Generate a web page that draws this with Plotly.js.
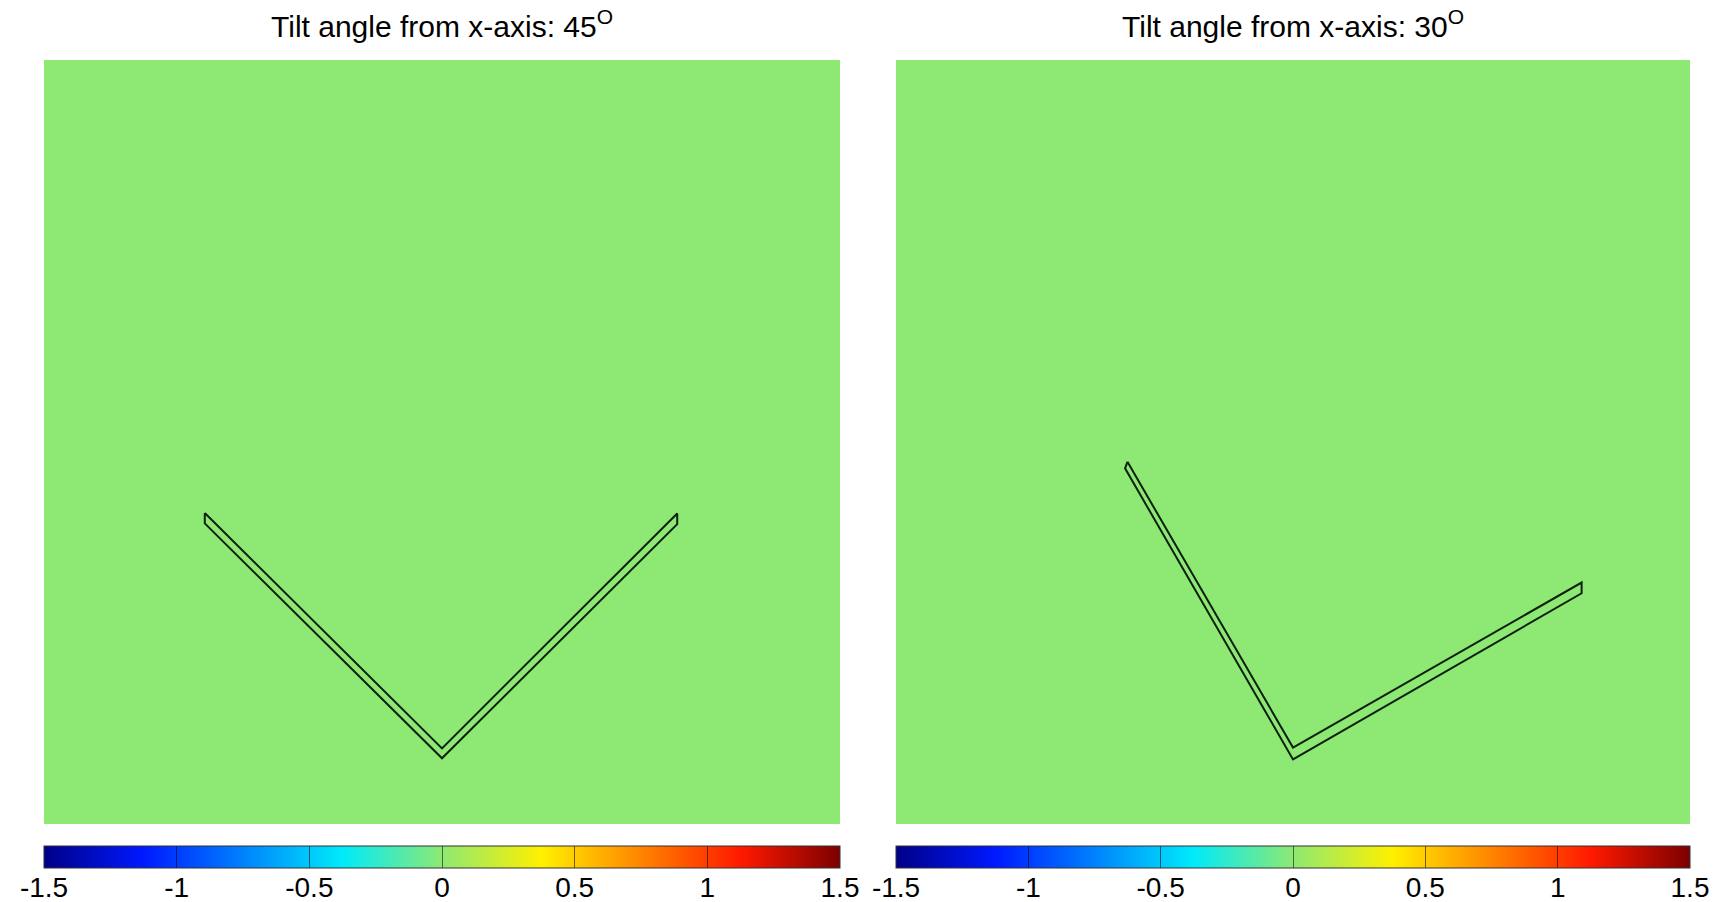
<!DOCTYPE html>
<html>
<head>
<meta charset="utf-8">
<script src="https://cdn.plot.ly/plotly-3.0.1.min.js"></script>
<style>
  html, body { margin: 0; padding: 0; background: #ffffff; overflow: hidden; }
  #chart { width: 1721px; height: 902px; }
</style>
</head>
<body>
<div id="chart"></div>
<script>
// ---- data ----
const panelTitles = ['Tilt angle from x-axis: 45<sup>O</sup>', 'Tilt angle from x-axis: 30<sup>O</sup>'];

// field (all zero) on a coarse grid, per panel
const fieldX = [-0.5, 0.5];
const fieldY = [-0.5, 0.5];
const fieldZ45 = [[0, 0], [0, 0]];
const fieldZ30 = [[0, 0], [0, 0]];

// outline of the V-shaped strip, tilt 45 deg
const strip45X = [-0.596, 0.000, 0.591, 0.591, 0.000, -0.596, -0.596];
const strip45Y = [-0.186, -0.802, -0.187, -0.215, -0.828, -0.213, -0.186];

// outline of the V-shaped strip, tilt 30 deg
const strip30X = [-0.417, 0.000, 0.727, 0.727, 0.000, -0.423, -0.417];
const strip30Y = [-0.052, -0.800, -0.368, -0.396, -0.831, -0.069, -0.052];

// colour scale range and ticks
const zMin = -1.5, zMax = 1.5;
const cbTickVals = [-1.5, -1, -0.5, 0, 0.5, 1, 1.5];
const cbTickText = ['-1.5', '-1', '-0.5', '0', '0.5', '1', '1.5'];

const jet = [
  [0.0, 'rgb(0,0,135)'],
  [0.125, 'rgb(0,25,255)'],
  [0.375, 'rgb(0,235,250)'],
  [0.5, 'rgb(141,233,115)'],
  [0.625, 'rgb(255,240,0)'],
  [0.875, 'rgb(255,25,0)'],
  [1.0, 'rgb(125,0,0)']
];

// ---- layout geometry (pixels) ----
const W = 1721, H = 902;
const panels = [
  {x0: 44, x1: 840},
  {x0: 896, x1: 1690}
];
const plotTop = 60, plotBottom = 824;
const cbTop = 846, cbThick = 22;
const labelAxisPos = 868;

const FONT = 'Liberation Sans, Arial, Helvetica, sans-serif';

function cbar(p) {
  return {
    orientation: 'h',
    x: p.x0 / W, xanchor: 'left',
    y: 1 - cbTop / H, yanchor: 'top',
    len: (p.x1 - p.x0) / W, lenmode: 'fraction',
    thickness: cbThick, thicknessmode: 'pixels',
    xpad: 0, ypad: 0,
    outlinewidth: 1, outlinecolor: '#333333',
    tickmode: 'array', tickvals: cbTickVals, ticktext: cbTickText,
    ticks: 'inside', ticklen: cbThick, tickwidth: 1, tickcolor: 'rgba(0,0,0,0.55)',
    showticklabels: false
  };
}

const traces = [
  {type: 'heatmap', x: fieldX, y: fieldY, z: fieldZ45, zmin: zMin, zmax: zMax,
   colorscale: jet, xaxis: 'x', yaxis: 'y', colorbar: cbar(panels[0]), hoverinfo: 'skip'},
  {type: 'heatmap', x: fieldX, y: fieldY, z: fieldZ30, zmin: zMin, zmax: zMax,
   colorscale: jet, xaxis: 'x2', yaxis: 'y2', colorbar: cbar(panels[1]), hoverinfo: 'skip'},
  {type: 'scatter', mode: 'lines', x: strip45X, y: strip45Y, xaxis: 'x', yaxis: 'y',
   line: {color: '#0d1f0d', width: 2}, showlegend: false, hoverinfo: 'skip'},
  {type: 'scatter', mode: 'lines', x: strip30X, y: strip30Y, xaxis: 'x2', yaxis: 'y2',
   line: {color: '#0d1f0d', width: 2}, showlegend: false, hoverinfo: 'skip'},
  // empty traces that carry the colour-scale label axes
  {type: 'scatter', mode: 'lines', x: [], y: [], xaxis: 'x3', yaxis: 'y3', showlegend: false, hoverinfo: 'skip'},
  {type: 'scatter', mode: 'lines', x: [], y: [], xaxis: 'x4', yaxis: 'y4', showlegend: false, hoverinfo: 'skip'}
];

function ax(dom) {
  return {domain: dom, range: [-1, 1], showgrid: false, zeroline: false, showline: false,
          showticklabels: false, ticks: '', fixedrange: true};
}
function labelAx(p) {
  return {domain: [p.x0 / W, p.x1 / W], range: [zMin, zMax], anchor: 'free',
          position: 1 - labelAxisPos / H, side: 'bottom',
          tickmode: 'array', tickvals: cbTickVals, ticktext: cbTickText,
          showgrid: false, zeroline: false, showline: false, ticks: '',
          tickfont: {family: FONT, size: 28, color: '#000000'}, fixedrange: true};
}
function hiddenY(xname) {
  return {domain: [0, 0.03], anchor: xname, visible: false, range: [0, 1], fixedrange: true};
}
const yDom = [1 - plotBottom / H, 1 - plotTop / H];

const layout = {
  width: W, height: H,
  margin: {l: 0, r: 0, t: 0, b: 0, pad: 0, autoexpand: false},
  paper_bgcolor: '#ffffff', plot_bgcolor: 'rgba(0,0,0,0)',
  showlegend: false,
  xaxis: ax([panels[0].x0 / W, panels[0].x1 / W]),
  yaxis: ax(yDom),
  xaxis2: ax([panels[1].x0 / W, panels[1].x1 / W]),
  yaxis2: ax(yDom),
  xaxis3: labelAx(panels[0]),
  yaxis3: hiddenY('x3'),
  xaxis4: labelAx(panels[1]),
  yaxis4: hiddenY('x4'),
  annotations: panels.map((p, i) => ({
    text: panelTitles[i], xref: 'paper', yref: 'paper',
    x: (p.x0 + p.x1) / 2 / W, y: 1 - 24 / H, xanchor: 'center', yanchor: 'middle',
    showarrow: false, font: {family: FONT, size: 30, color: '#000000'}
  }))
};

Plotly.newPlot('chart', traces, layout, {displayModeBar: false, staticPlot: true});
</script>
</body>
</html>
